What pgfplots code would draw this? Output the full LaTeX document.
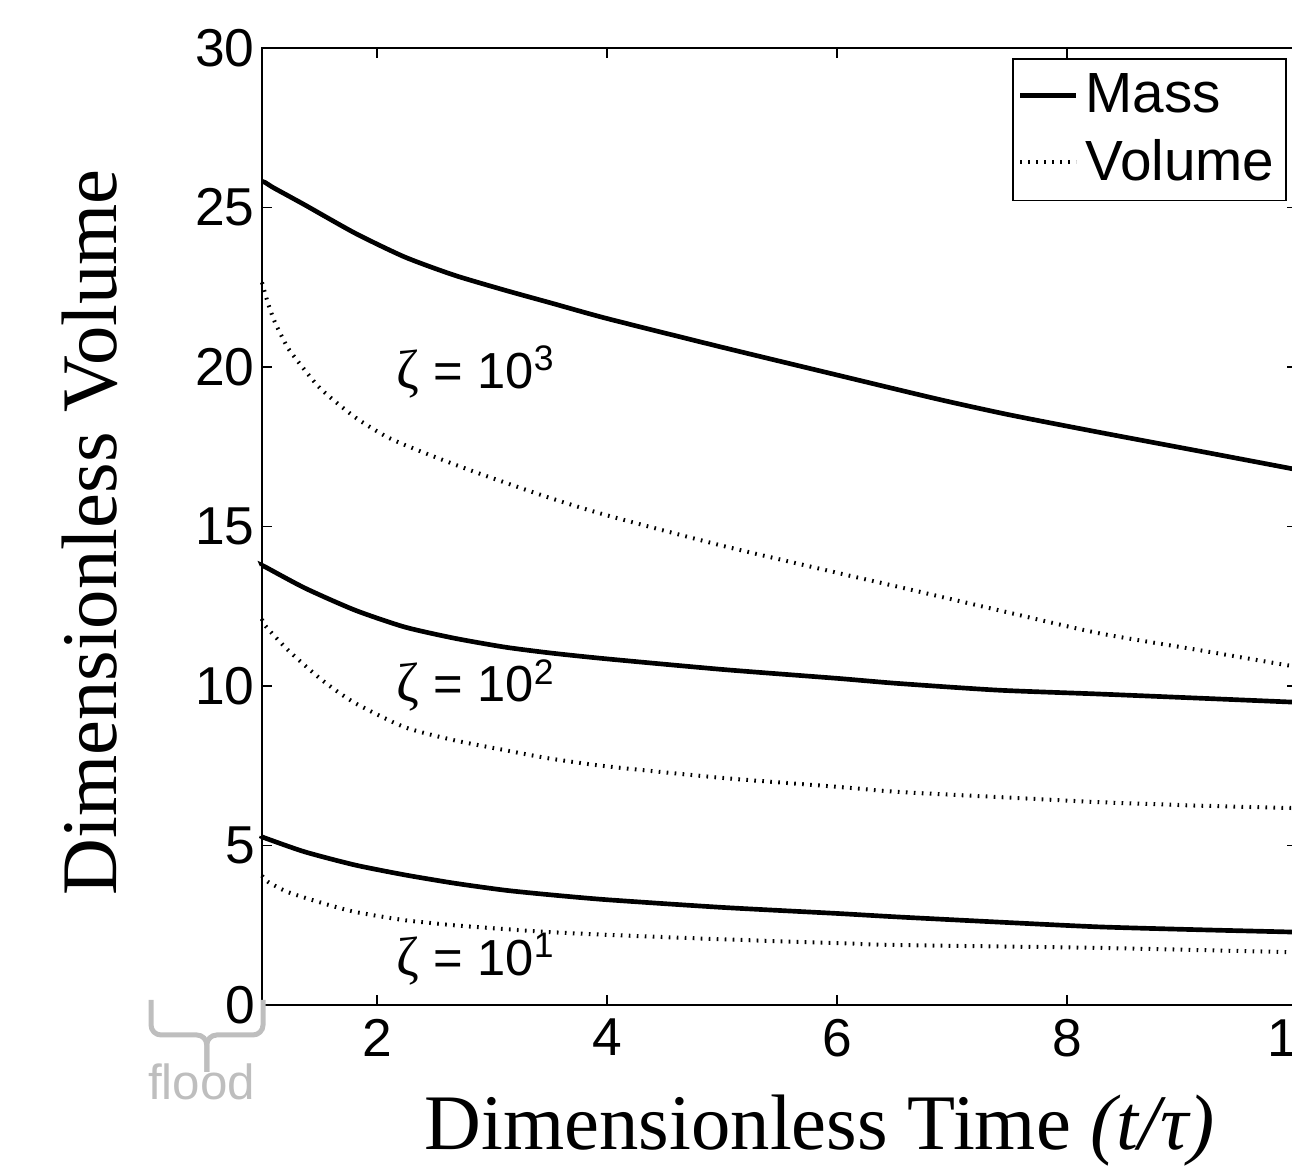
\documentclass[border=0pt]{standalone}
\usepackage{pgfplots}
\pgfplotsset{compat=1.18}
\usepackage{fontspec}
\setmainfont{Liberation Sans}
\newfontfamily\serif{Liberation Serif}
\definecolor{fgray}{RGB}{190,190,190}

\pgfplotstableread{
x y
1.000 25.82
1.030 25.78
1.100 25.62
1.373 25.08
1.807 24.20
2.240 23.45
2.670 22.88
3.110 22.41
3.520 22.00
4.000 21.52
5.000 20.62
6.000 19.75
6.880 18.99
7.500 18.50
8.270 17.96
9.140 17.37
9.930 16.83
10.00 16.78
}\massA
\pgfplotstableread{
x y
1.000 22.65
1.052 22.00
1.113 21.40
1.225 20.60
1.373 19.90
1.520 19.28
1.807 18.43
2.090 17.80
2.390 17.34
2.730 16.87
3.000 16.52
3.500 15.90
4.000 15.35
5.000 14.40
6.000 13.55
6.580 13.07
7.400 12.38
8.270 11.66
9.140 11.13
9.900 10.66
10.00 10.60
}\volA
\pgfplotstableread{
x y
1.000 13.78
1.030 13.73
1.373 13.07
1.807 12.38
2.240 11.85
2.670 11.50
3.110 11.22
3.520 11.03
4.000 10.85
5.000 10.52
6.000 10.24
6.530 10.08
7.400 9.87
8.270 9.75
9.140 9.62
9.930 9.50
10.00 9.49
}\massB
\pgfplotstableread{
x y
1.000 12.10
1.026 11.90
1.225 11.13
1.520 10.19
1.807 9.47
2.240 8.71
2.670 8.30
3.110 7.99
3.480 7.74
4.000 7.48
5.000 7.12
6.000 6.84
6.530 6.68
7.400 6.52
8.270 6.36
9.140 6.25
9.900 6.18
10.00 6.17
}\volB
\pgfplotstableread{
x y
1.000 5.28
1.030 5.23
1.373 4.80
1.807 4.39
2.240 4.08
2.670 3.82
3.110 3.60
3.520 3.45
4.000 3.30
5.000 3.06
6.000 2.87
6.530 2.76
7.400 2.60
8.270 2.45
9.140 2.36
9.930 2.29
10.00 2.28
}\massC
\pgfplotstableread{
x y
1.000 4.05
1.052 3.86
1.225 3.54
1.520 3.20
1.807 2.92
2.240 2.66
2.670 2.50
3.110 2.38
3.480 2.29
4.000 2.20
5.000 2.06
6.000 1.94
6.530 1.88
8.270 1.79
9.900 1.66
10.00 1.65
}\volC

\begin{document}
\begin{tikzpicture}
\begin{axis}[
  at={(0,0)}, anchor=south west,
  scale only axis, width=310.5pt, height=287.1pt,
  xmin=1, xmax=10, ymin=0, ymax=30,
  xtick={2,4,6,8,10}, ytick={0,5,10,15,20,25,30},
  tick align=inside, major tick length=3pt,
  tick style={black, line width=0.4pt},
  axis line style={line width=0.7pt},
  clip=false,
  /pgf/number format/assume math mode=true,
  ticklabel style={font=\fontsize{16}{19}\selectfont},
  yticklabel style={inner xsep=2pt},
  xticklabel style={inner ysep=4pt},
  xlabel={\serif Dimensionless Time \textit{(t/τ)}},
  ylabel={\serif Dimensionless Volume},
  label style={font=\fontsize{23.6}{27}\selectfont},
  xlabel style={at={(axis description cs:0.539,-0.1515)}, anchor=base},
  ylabel style={at={(axis description cs:-0.1401,0.4937)}, anchor=base},
  legend style={at={(axis description cs:0.9903,0.9896)}, anchor=north east,
    draw=black, line width=0.5pt, font=\fontsize{17}{20}\selectfont,
    inner xsep=1.5pt, inner ysep=2.5pt, row sep=2.5pt},
  legend cell align=left,
  legend image code/.code={\draw[#1] (0pt,0pt) -- (16.8pt,0pt);},
]
\addplot[black, line width=1.4pt, smooth, tension=0.4] table {\massA};
\addlegendentry{Mass}
\addplot[black, line width=1.2pt, smooth, tension=0.4, dash pattern=on 0.5pt off 1.9pt] table {\volA};
\addlegendentry{Volume}
\addplot[black, line width=1.4pt, smooth, tension=0.4, forget plot] table {\massB};
\addplot[black, line width=1.2pt, smooth, tension=0.4, dash pattern=on 0.5pt off 1.9pt, forget plot] table {\volB};
\addplot[black, line width=1.4pt, smooth, tension=0.4, forget plot] table {\massC};
\addplot[black, line width=1.2pt, smooth, tension=0.4, dash pattern=on 0.5pt off 1.9pt, forget plot] table {\volC};

\node[anchor=base west, inner sep=0pt, font=\fontsize{15.2}{18}\selectfont] at (axis cs:2.168,19.34) {{\serif\fontsize{16.5}{18}\selectfont ζ} = 10\textsuperscript{3}};
\node[anchor=base west, inner sep=0pt, font=\fontsize{15.2}{18}\selectfont] at (axis cs:2.168,9.51) {{\serif\fontsize{16.5}{18}\selectfont ζ} = 10\textsuperscript{2}};
\node[anchor=base west, inner sep=0pt, font=\fontsize{15.2}{18}\selectfont] at (axis cs:2.168,0.94) {{\serif\fontsize{16.5}{18}\selectfont ζ} = 10\textsuperscript{1}};

\draw[fgray, line width=1.5pt, rounded corners=3pt] (axis cs:0.035,0.16) -- (axis cs:0.035,-0.94) -- (axis cs:0.52,-0.94) -- (axis cs:0.52,-2.1);
\draw[fgray, line width=1.5pt, rounded corners=3pt] (axis cs:1.009,0.16) -- (axis cs:1.009,-0.94) -- (axis cs:0.52,-0.94) -- (axis cs:0.52,-2.1);
\node[anchor=base, inner sep=0pt, text=fgray, font=\fontsize{14.8}{17}\selectfont] at (axis cs:0.475,-2.95) {flood};
\end{axis}
\pgfresetboundingbox
\useasboundingbox ([shift={(-78.6pt,-48.9pt)}]current axis.south west) rectangle ([shift={(309pt,301.5pt)}]current axis.south west);
\end{tikzpicture}
\end{document}
